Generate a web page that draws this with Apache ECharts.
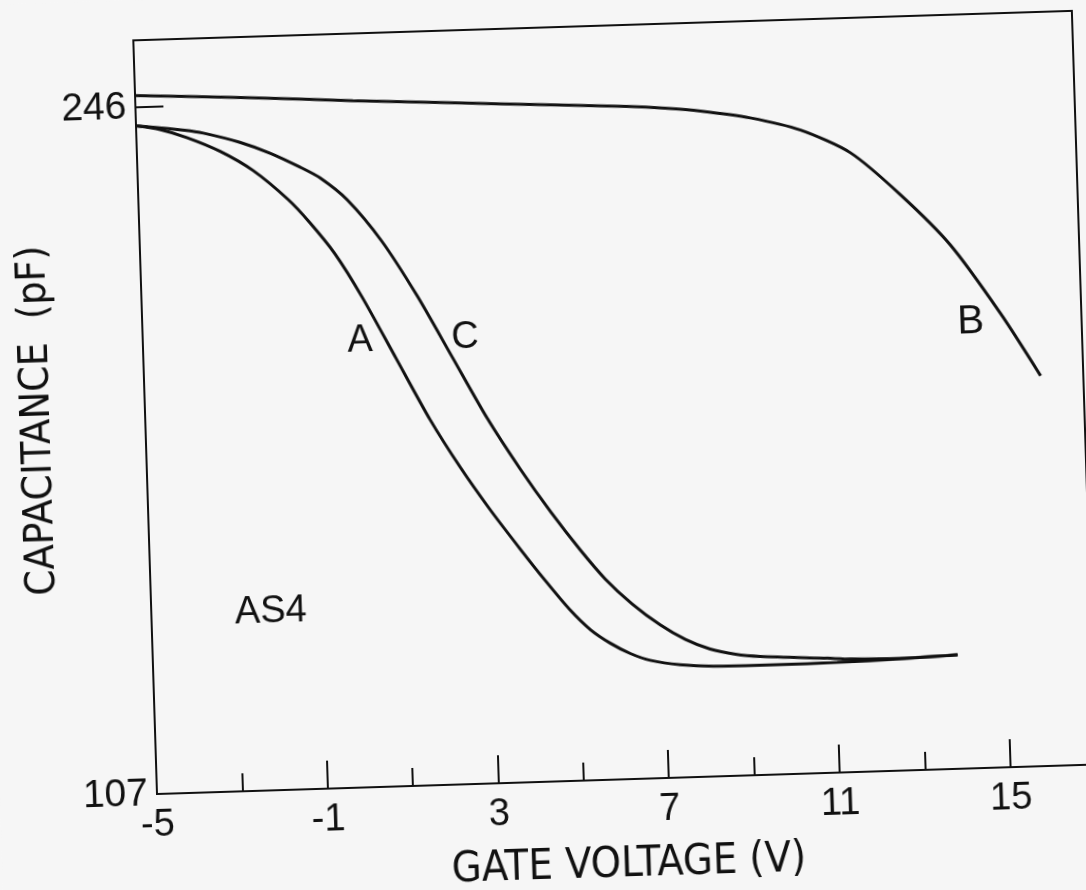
<!DOCTYPE html>
<html>
<head>
<meta charset="utf-8">
<title>AS4 C-V curves</title>
<script src="https://cdn.jsdelivr.net/npm/echarts@6/dist/echarts.min.js"></script>
<style>
  html, body { margin: 0; padding: 0; width: 1086px; height: 890px; overflow: hidden; background: #f6f6f6; }
  /* the plate is drawn slightly tilted, the whole drawing turns about the axis origin */
  #chart { position: absolute; left: 0; top: 0; width: 1200px; height: 1000px;
           transform: rotate(-1.8deg); transform-origin: 157px 794px; }
</style>
</head>
<body>
<div id="chart"></div>
<script>
// Curve A: gate voltage (V) and capacitance (pF)
const voltageA = [-5.0, -4.44, -3.82, -3.05, -2.29, -1.49, -1.00, -0.44, 0.17, 0.92, 1.67, 2.34, 3.01, 3.69, 4.25, 4.81, 5.27, 5.73, 6.19, 6.65, 7.35, 8.12, 9.62, 11.03, 12.51, 13.85];
const capA     = [242.3, 241.4, 239.6, 236.6, 232.5, 226.4, 221.6, 215.2, 206.2, 193.6, 181.0, 171.2, 162.4, 154.2, 147.7, 141.6, 137.5, 134.6, 132.4, 130.9, 129.8, 129.3, 129.2, 129.3, 129.6, 130.05];

// Curve B
const voltageB = [-5.0, -2.31, 0.10, 2.37, 4.71, 6.50, 7.40, 8.23, 9.39, 10.56, 11.71, 12.85, 13.98, 15.11, 16.0];
const capB     = [248.4, 247.25, 246.0, 244.96, 243.9, 243.1, 242.5, 241.7, 240.0, 237.2, 232.3, 223.5, 213.05, 198.8, 186.0];

// Curve C
const voltageC = [-5.0, -4.60, -3.86, -3.43, -2.58, -1.88, -1.19, -0.73, -0.11, 0.67, 1.46, 2.23, 3.01, 3.74, 4.44, 5.09, 5.66, 6.27, 6.91, 7.49, 8.06, 8.65, 9.23, 10.80, 11.34, 12.51, 13.85];
const capC     = [242.3, 241.9, 241.1, 240.4, 238.3, 235.9, 232.9, 230.6, 226.0, 217.4, 206.1, 193.6, 180.9, 170.5, 161.4, 153.7, 147.6, 142.4, 138.0, 134.9, 132.8, 131.6, 131.0, 130.2, 129.9, 129.7, 130.05];

// Axis tick values and labels
const xLabelValues = [-5, -1, 3, 7, 11, 15];
const xMajorTicks  = [-1, 3, 7, 11, 15];
const xMinorTicks  = [-3, 1, 5, 9, 13];
const yLabelValues = [107, 246];
const yTicks       = [246];

// In-plot annotations: text, voltage, capacitance
const noteText = ['A', 'C', 'B', 'AS4'];
const noteV    = [0.09, 2.55, 14.40, -2.20];
const noteC    = [197.4, 197.3, 197.3, 143.1];
const noteSize = [38, 38, 40, 38];

const INK = '#111111';
const LETTER = "'Liberation Sans Narrow', 'DejaVu Sans Condensed', 'Liberation Sans', Arial, sans-serif";
const DIGITS = "'Liberation Sans', Arial, sans-serif";

const zip = (xs, ys) => xs.map((x, i) => [x, ys[i]]);

function curve(name, xs, ys) {
  return {
    name, type: 'line', data: zip(xs, ys),
    smooth: 0.25, showSymbol: false, symbol: 'none',
    lineStyle: { color: INK, width: 3 }, silent: true, z: 3
  };
}

const chart = echarts.init(document.getElementById('chart'), null, { renderer: 'canvas' });

chart.setOption({
  backgroundColor: '#f6f6f6',
  animation: false,
  grid: {
    left: 157, top: 40, width: 939, height: 754,
    show: true, borderColor: INK, borderWidth: 2, backgroundColor: 'transparent'
  },
  xAxis: [{
    type: 'value', position: 'bottom', min: -5, max: 17,
    name: 'GATE VOLTAGE (V)', nameLocation: 'middle', nameGap: 64,
    nameTextStyle: { color: INK, fontFamily: LETTER, fontSize: 43 },
    axisLine: { show: true, onZero: false, lineStyle: { color: INK, width: 2 } },
    axisTick: { show: true, inside: true, length: 28, customValues: xMajorTicks, lineStyle: { color: INK, width: 2 } },
    axisLabel: { show: true, customValues: xLabelValues, margin: 13, color: INK, fontFamily: DIGITS, fontSize: 38 },
    splitLine: { show: false }
  }, {
    type: 'value', position: 'bottom', min: -5, max: 17,
    axisLine: { show: false, onZero: false },
    axisTick: { show: true, inside: true, length: 18, customValues: xMinorTicks, lineStyle: { color: INK, width: 2 } },
    axisLabel: { show: false },
    splitLine: { show: false }
  }],
  yAxis: {
    type: 'value', min: 107, max: 259.6,
    name: 'CAPACITANCE  (pF)', nameLocation: 'middle', nameGap: 86, nameRotate: 90,
    nameTextStyle: { color: INK, fontFamily: LETTER, fontSize: 41 },
    axisLine: { show: true, onZero: false, lineStyle: { color: INK, width: 2 } },
    axisTick: { show: true, inside: true, length: 28, customValues: yTicks, lineStyle: { color: INK, width: 2 } },
    axisLabel: { show: true, customValues: yLabelValues, margin: 9, color: INK, fontFamily: DIGITS, fontSize: 39 },
    splitLine: { show: false }
  },
  series: [
    curve('A', voltageA, capA),
    curve('B', voltageB, capB),
    curve('C', voltageC, capC),
    {
      name: 'notes', type: 'scatter', silent: true, z: 4,
      symbolSize: 1, itemStyle: { color: 'rgba(0,0,0,0)', opacity: 1 },
      data: noteText.map((t, i) => ({
        value: [noteV[i], noteC[i]], name: t,
        label: { show: true, position: 'inside', color: INK, fontFamily: DIGITS, fontSize: noteSize[i], formatter: t }
      }))
    }
  ]
});
</script>
</body>
</html>
